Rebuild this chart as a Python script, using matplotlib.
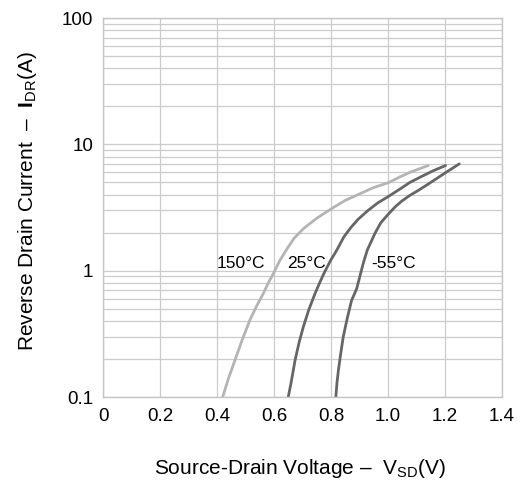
import matplotlib
matplotlib.use("Agg")
import matplotlib.pyplot as plt
from matplotlib.ticker import FixedLocator, FixedFormatter, LogLocator, NullFormatter

plt.rcParams['font.family'] = ['Liberation Sans', 'DejaVu Sans']
plt.rcParams['mathtext.fontset'] = 'custom'
plt.rcParams['mathtext.rm'] = 'Liberation Sans'
plt.rcParams['mathtext.it'] = 'Liberation Sans'
plt.rcParams['mathtext.bf'] = 'Liberation Sans:bold'

# curves: (V_SD, I_DR)
v_150 = [0.42, 0.44, 0.463, 0.49, 0.516, 0.54, 0.5625, 0.58, 0.60, 0.62, 0.644, 0.67,
         0.703, 0.75, 0.802, 0.85, 0.902, 0.95, 1.004, 1.04, 1.077, 1.11, 1.141]
i_150 = [0.1, 0.14, 0.196, 0.29, 0.41, 0.53, 0.66, 0.80, 0.97, 1.2, 1.47, 1.8,
         2.15, 2.6, 3.1, 3.6, 4.07, 4.55, 5.0, 5.5, 6.0, 6.4, 6.8]

v_25 = [0.65, 0.66, 0.674, 0.688, 0.703, 0.722, 0.744, 0.76, 0.775, 0.798, 0.82,
        0.845, 0.87, 0.895, 0.93, 0.965, 1.0, 1.04, 1.077, 1.12, 1.16, 1.202]
i_25 = [0.1, 0.13, 0.196, 0.27, 0.36, 0.49, 0.66, 0.80, 0.95, 1.2, 1.45,
        1.85, 2.2, 2.55, 3.0, 3.45, 3.85, 4.4, 5.0, 5.6, 6.2, 6.8]

v_m55 = [0.817, 0.821, 0.826, 0.834, 0.843, 0.857, 0.872, 0.89, 0.913, 0.927, 0.954,
         0.975, 1.001, 1.025, 1.048, 1.077, 1.105, 1.135, 1.17, 1.202, 1.25]
i_m55 = [0.1, 0.13, 0.163, 0.22, 0.30, 0.42, 0.58, 0.72, 1.14, 1.45, 1.97,
         2.4, 2.8, 3.2, 3.55, 3.95, 4.3, 4.75, 5.35, 5.97, 7.0]

labels = ["150°C", "25°C", "-55°C"]
label_x = [0.40, 0.645, 0.94]
label_y = 1.15

x_ticks = [0, 0.2, 0.4, 0.6, 0.8, 1.0, 1.2, 1.4]
x_tick_labels = ["0", "0.2", "0.4", "0.6", "0.8", "1.0", "1.2", "1.4"]
y_ticks = [0.1, 1, 10, 100]
y_tick_labels = ["0.1", "1", "10", "100"]

fig = plt.figure(figsize=(5.24, 4.83), dpi=100)
ax = fig.add_axes([0.1966, 0.178, 0.7614, 0.7847])

ax.plot(v_150, i_150, color="#b4b4b4", lw=2.0, solid_capstyle="round", solid_joinstyle="round")
ax.plot(v_25, i_25, color="#666666", lw=2.0, solid_capstyle="round", solid_joinstyle="round")
ax.plot(v_m55, i_m55, color="#666666", lw=2.0, solid_capstyle="round", solid_joinstyle="round")

for t, x in zip(labels, label_x):
    ax.text(x, label_y, t, fontsize=12.5, ha="left", va="center")

ax.set_yscale("log")
ax.set_xlim(0, 1.4)
ax.set_ylim(0.1, 100)

ax.xaxis.set_major_locator(FixedLocator(x_ticks))
ax.xaxis.set_major_formatter(FixedFormatter(x_tick_labels))
ax.yaxis.set_major_locator(FixedLocator(y_ticks))
ax.yaxis.set_major_formatter(FixedFormatter(y_tick_labels))
ax.yaxis.set_minor_locator(LogLocator(base=10, subs=range(2, 10)))
ax.yaxis.set_minor_formatter(NullFormatter())

ax.tick_params(axis="both", which="both", length=0, labelsize=13.5)
ax.tick_params(axis="x", pad=8)
ax.tick_params(axis="y", pad=7)

ax.grid(True, which="both", color="#cccccc", lw=0.9)
ax.set_axisbelow(True)
for s in ax.spines.values():
    s.set_color("#c4c4c4")
    s.set_linewidth(1.0)

fig.text(0.573, 0.031, r"Source-Drain Voltage –  V$_{\mathrm{SD}}$(V)",
         fontsize=15, ha="center", va="center")
fig.text(0.052, 0.584, r"Reverse Drain Current  –  $\mathbf{I}_{\mathrm{DR}}$(A)",
         fontsize=15, ha="center", va="center", rotation=90)

fig.savefig("out.png", dpi=100)
